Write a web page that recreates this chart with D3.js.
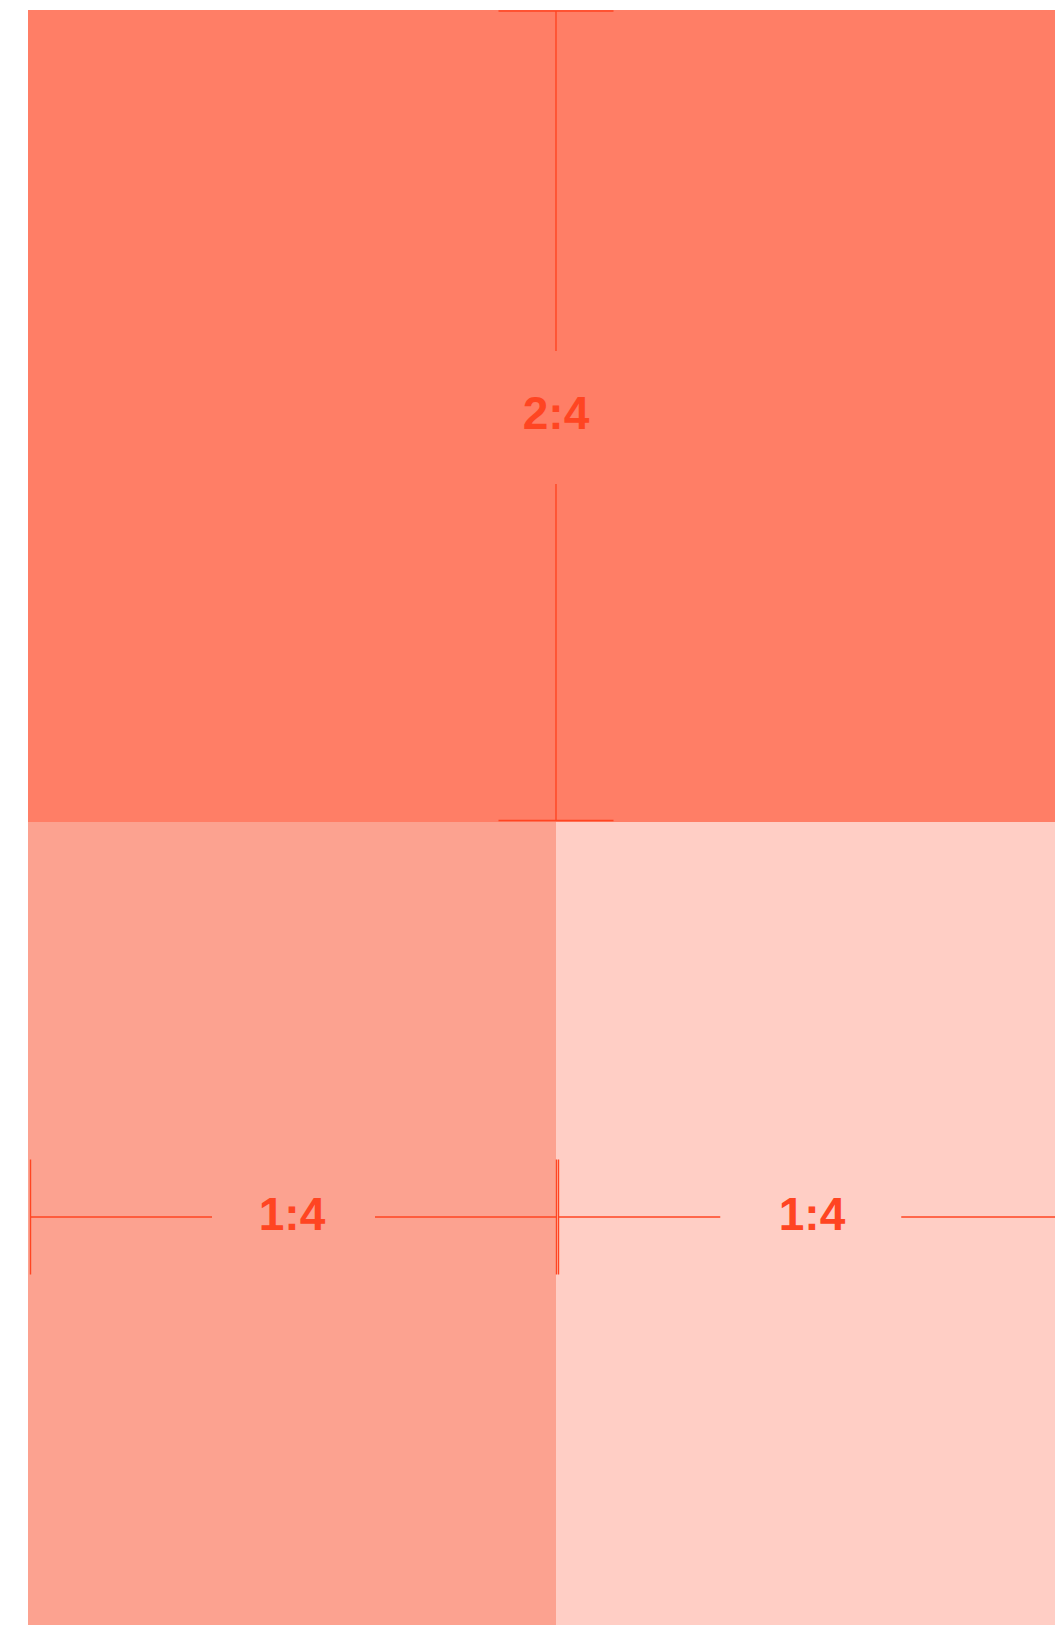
<!DOCTYPE html>
<html>
<head>
<meta charset="utf-8">
<script src="https://cdn.jsdelivr.net/npm/d3@7"></script>
<style>
  html, body { margin: 0; padding: 0; background: #fff; overflow: hidden; }
  svg { display: block; }
  .lbl { font-family: "Liberation Sans", Arial, sans-serif; font-weight: 700; font-size: 46px; fill: #ff4522; }
</style>
</head>
<body>
<script>
// mosaic cells: row, share of the whole, label
const rows = [0, 1, 1];
const values = [2, 1, 1];
const labels = ["2:4", "1:4", "1:4"];
const fills = ["#ff7e66", "#fca290", "#ffcec5"];

const w = 1055, h = 1625;
const marginLeft = 28, marginTop = 10;
const chartW = 1056, chartH = 1624;
const visRight = 1068; // area the annotations are centred in (chart runs past the page)
const ink = "#ff4522";

const svg = d3.select("body").append("svg")
  .attr("width", w)
  .attr("height", h);

// rows stacked by their total share
const rowTotals = d3.rollup(values.map((v, i) => [rows[i], v]), v => d3.sum(v, d => d[1]), d => d[0]);
const total = d3.sum(values);
const rowIds = Array.from(rowTotals.keys()).sort();
let acc = 0;
const rowStart = {};
rowIds.forEach(r => { rowStart[r] = acc; acc += rowTotals.get(r); });

const yScale = d3.scaleLinear().domain([0, total]).range([marginTop, marginTop + chartH]);

const cells = [];
rowIds.forEach(r => {
  const idx = values.map((v, i) => i).filter(i => rows[i] === r);
  const rowSum = rowTotals.get(r);
  const xScale = d3.scaleLinear().domain([0, rowSum]).range([marginLeft, marginLeft + chartW]);
  let a = 0;
  idx.forEach(i => {
    cells.push({
      i: i,
      x0: xScale(a), x1: xScale(a + values[i]),
      y0: yScale(rowStart[r]), y1: yScale(rowStart[r] + rowSum),
      label: labels[i], fill: fills[i], single: idx.length === 1
    });
    a += values[i];
  });
});

svg.selectAll("rect.cell")
  .data(cells)
  .enter()
  .append("rect")
  .attr("class", "cell")
  .attr("x", d => d.x0)
  .attr("y", d => d.y0)
  .attr("width", d => d.x1 - d.x0)
  .attr("height", d => d.y1 - d.y0)
  .attr("fill", d => d.fill);

const g = svg.append("g")
  .attr("stroke", ink)
  .attr("stroke-width", 1.4)
  .attr("fill", "none");

const cap = 57.5;

cells.forEach(d => {
  let cx = (d.x0 + d.x1) / 2, cy = (d.y0 + d.y1) / 2;
  if (d.single) {
    // vertical measure of the row height
    const a = d.y0 + 1, b = d.y1 - 1.5;
    g.append("line").attr("x1", cx - cap).attr("x2", cx + cap).attr("y1", a).attr("y2", a);
    g.append("line").attr("x1", cx - cap).attr("x2", cx + cap).attr("y1", b).attr("y2", b);
    g.append("line").attr("x1", cx).attr("x2", cx).attr("y1", a).attr("y2", cy - 65);
    g.append("line").attr("x1", cx).attr("x2", cx).attr("y1", cy + 68).attr("y2", b);
  } else {
    // horizontal measure of the cell width
    const clipped = d.x1 > visRight;
    const right = Math.min(d.x1, visRight);
    cx = (d.x0 + right) / 2;
    cy = cy - 11;
    const a = d.x0 + 2.5, b = clipped ? right - 5 : d.x1 + 0.5, ly = cy;
    const mid = (a + b) / 2, gap = clipped ? 90.5 : 81.5;
    g.append("line").attr("x1", a).attr("x2", a).attr("y1", ly - cap).attr("y2", ly + cap);
    g.append("line").attr("x1", b).attr("x2", b).attr("y1", ly - cap).attr("y2", ly + cap);
    g.append("line").attr("x1", a).attr("x2", mid - gap).attr("y1", ly).attr("y2", ly);
    g.append("line").attr("x1", mid + gap).attr("x2", b).attr("y1", ly).attr("y2", ly);
  }
  svg.append("text")
    .attr("class", "lbl")
    .attr("x", cx)
    .attr("y", cy + 13)
    .attr("text-anchor", "middle")
    .text(d.label);
});
</script>
</body>
</html>
